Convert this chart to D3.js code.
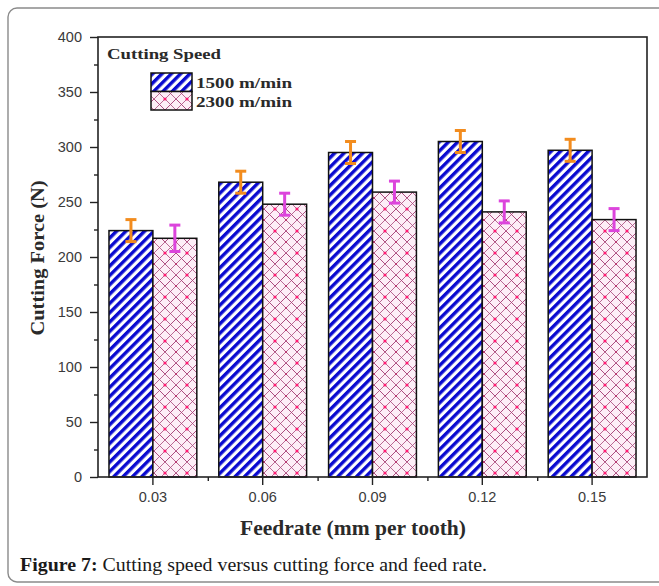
<!DOCTYPE html>
<html>
<head>
<meta charset="utf-8">
<script src="https://cdn.jsdelivr.net/npm/d3@7"></script>
<style>
  body { margin: 0; background: #fff; }
  svg { display: block; }
</style>
</head>
<body>
<div id="chart"></div>
<script>
// values
var feedrates = ["0.03", "0.06", "0.09", "0.12", "0.15"];
var force1500 = [224, 268, 295, 305, 297];
var err1500 = [10, 10, 10, 10, 10];
var force2300 = [217, 248, 259, 241, 234];
var err2300 = [12, 10, 10, 10, 10];
var seriesNames = ["1500 m/min", "2300 m/min"];
var yTicks = [0, 50, 100, 150, 200, 250, 300, 350, 400];

var width = 659, height = 586;
var plotLeft = 98, plotRight = 647, plotTop = 37, plotBottom = 477;

var svg = d3.select("#chart").append("svg")
    .attr("width", width)
    .attr("height", height);

var defs = svg.append("defs");

// blue diagonal stripes
var stripes = defs.append("pattern")
    .attr("id", "stripes")
    .attr("patternUnits", "userSpaceOnUse")
    .attr("width", 6.6).attr("height", 6.6)
    .attr("patternTransform", "rotate(45)");
stripes.append("rect").attr("width", 6.6).attr("height", 6.6).attr("fill", "#fff");
stripes.append("rect").attr("width", 3.4).attr("height", 6.6).attr("fill", "#0a0ad0");

// pink cross hatch with red dots
var hatch = defs.append("pattern")
    .attr("id", "hatch")
    .attr("patternUnits", "userSpaceOnUse")
    .attr("width", 22).attr("height", 22);
hatch.append("rect").attr("width", 22).attr("height", 22).attr("fill", "#fdeef7");
hatch.append("path")
    .attr("d", "M-11,0L22,33M0,0L22,22M11,0L22,11M0,11L11,22M-11,11L11,33" +
               "M33,0L0,33M22,0L0,22M11,0L0,11M22,11L11,22M33,11L11,33")
    .attr("stroke", "#a8457a").attr("stroke-width", 0.8).attr("fill", "none");
hatch.append("circle").attr("cx", 11).attr("cy", 11).attr("r", 1.6).attr("fill", "#ff1c72");
[[0, 0], [22, 0], [0, 22], [22, 22]].forEach(function (p) {
    hatch.append("circle").attr("cx", p[0]).attr("cy", p[1]).attr("r", 1.1).attr("fill", "#b8306a");
});

var fills = ["url(#stripes)", "url(#hatch)"];
var errColors = ["#f28c1e", "#dc45dc"];

// outer figure frame
svg.append("rect")
    .attr("x", 8).attr("y", 8)
    .attr("width", 680).attr("height", 574)
    .attr("rx", 9)
    .attr("fill", "none")
    .attr("stroke", "#8a8a8a")
    .attr("stroke-width", 1.4);

var x = d3.scaleBand().domain(feedrates).range([plotLeft, plotRight]).paddingInner(0.2).paddingOuter(0.1);
var xSub = d3.scaleBand().domain([0, 1]).range([0, x.bandwidth()]);
var y = d3.scaleLinear().domain([0, 400]).range([plotBottom, plotTop]);

var groups = [force1500, force2300];
var errs = [err1500, err2300];

var rows = [];
feedrates.forEach(function (f, i) {
    groups.forEach(function (g, s) {
        rows.push({ f: f, s: s, v: g[i], e: errs[s][i] });
    });
});

function cx(d) { return x(d.f) + xSub(d.s) + xSub.bandwidth() / 2; }

// bars
svg.append("g").selectAll("rect")
    .data(rows)
    .enter().append("rect")
    .attr("x", function (d) { return x(d.f) + xSub(d.s); })
    .attr("y", function (d) { return y(d.v); })
    .attr("width", xSub.bandwidth())
    .attr("height", function (d) { return y(0) - y(d.v); })
    .attr("fill", function (d) { return fills[d.s]; })
    .attr("stroke", "#111")
    .attr("stroke-width", 1.5);

// error bars
var eb = svg.append("g").selectAll("g")
    .data(rows)
    .enter().append("g")
    .attr("stroke", function (d) { return errColors[d.s]; })
    .attr("stroke-width", 3);
eb.append("line")
    .attr("x1", cx).attr("x2", cx)
    .attr("y1", function (d) { return y(d.v + d.e); })
    .attr("y2", function (d) { return y(d.v - d.e); });
[1, -1].forEach(function (sign) {
    eb.append("line")
        .attr("x1", function (d) { return cx(d) - 5.5; })
        .attr("x2", function (d) { return cx(d) + 5.5; })
        .attr("y1", function (d) { return y(d.v + sign * d.e); })
        .attr("y2", function (d) { return y(d.v + sign * d.e); });
});

// plot box
svg.append("rect")
    .attr("x", plotLeft).attr("y", plotTop)
    .attr("width", plotRight - plotLeft).attr("height", plotBottom - plotTop)
    .attr("fill", "none").attr("stroke", "#222").attr("stroke-width", 1.6);

// y axis
svg.append("g")
    .attr("transform", "translate(" + plotLeft + ",0)")
    .call(d3.axisLeft(y).tickValues(yTicks).tickSize(8).tickPadding(8));
svg.append("g")
    .attr("transform", "translate(" + plotLeft + ",0)")
    .call(d3.axisLeft(y).tickValues(yTicks.slice(0, -1).map(function (t) { return t + 25; }))
        .tickSize(4).tickFormat(""));

// x axis
svg.append("g")
    .attr("transform", "translate(0," + plotBottom + ")")
    .call(d3.axisBottom(x).tickSize(8).tickPadding(7));
svg.append("g")
    .attr("transform", "translate(0," + plotBottom + ")")
    .call(d3.axisBottom(d3.scaleLinear().domain([0, feedrates.length]).range([plotLeft, plotRight]))
        .tickValues(d3.range(1, feedrates.length)).tickSize(4).tickFormat(""));

svg.selectAll(".domain").remove();
svg.selectAll(".tick line").attr("stroke", "#222").attr("stroke-width", 1.4);
svg.selectAll(".tick text")
    .attr("font-family", "Liberation Sans, Arial, sans-serif")
    .attr("font-size", 14.5)
    .attr("fill", "#3a3a3a");

// axis titles
svg.append("text")
    .attr("transform", "translate(44,258) rotate(-90)")
    .attr("text-anchor", "middle")
    .attr("font-family", "Liberation Serif, Times New Roman, serif")
    .attr("font-weight", "bold")
    .attr("font-size", 19)
    .attr("textLength", 155)
    .attr("lengthAdjust", "spacingAndGlyphs")
    .attr("fill", "#2a2a2a")
    .text("Cutting Force (N)");

svg.append("text")
    .attr("x", 353).attr("y", 535)
    .attr("text-anchor", "middle")
    .attr("font-family", "Liberation Serif, Times New Roman, serif")
    .attr("font-weight", "bold")
    .attr("font-size", 20)
    .attr("textLength", 226)
    .attr("lengthAdjust", "spacingAndGlyphs")
    .attr("fill", "#2a2a2a")
    .text("Feedrate (mm per tooth)");

// legend
var legend = svg.append("g");
legend.append("text")
    .attr("x", 107).attr("y", 59)
    .attr("font-family", "Liberation Serif, Times New Roman, serif")
    .attr("font-weight", "bold")
    .attr("font-size", 15)
    .attr("textLength", 114)
    .attr("lengthAdjust", "spacingAndGlyphs")
    .attr("fill", "#2a2a2a")
    .text("Cutting Speed");
seriesNames.forEach(function (name, s) {
    legend.append("rect")
        .attr("x", 151).attr("y", 73 + s * 18.5)
        .attr("width", 41).attr("height", 18.5)
        .attr("fill", fills[s])
        .attr("stroke", "#111").attr("stroke-width", 1.5);
    legend.append("text")
        .attr("x", 196).attr("y", 88 + s * 19)
        .attr("font-family", "Liberation Serif, Times New Roman, serif")
        .attr("font-weight", "bold")
        .attr("font-size", 15)
        .attr("textLength", 96)
        .attr("lengthAdjust", "spacingAndGlyphs")
        .attr("fill", "#2a2a2a")
        .text(name);
});

// caption
var cap = svg.append("text")
    .attr("x", 20).attr("y", 571)
    .attr("font-family", "Liberation Serif, Times New Roman, serif")
    .attr("font-size", 19)
    .attr("textLength", 467)
    .attr("lengthAdjust", "spacingAndGlyphs")
    .attr("fill", "#1a1a1a");
cap.append("tspan").attr("font-weight", "bold").text("Figure 7:");
cap.append("tspan").text(" Cutting speed versus cutting force and feed rate.");
</script>
</body>
</html>
